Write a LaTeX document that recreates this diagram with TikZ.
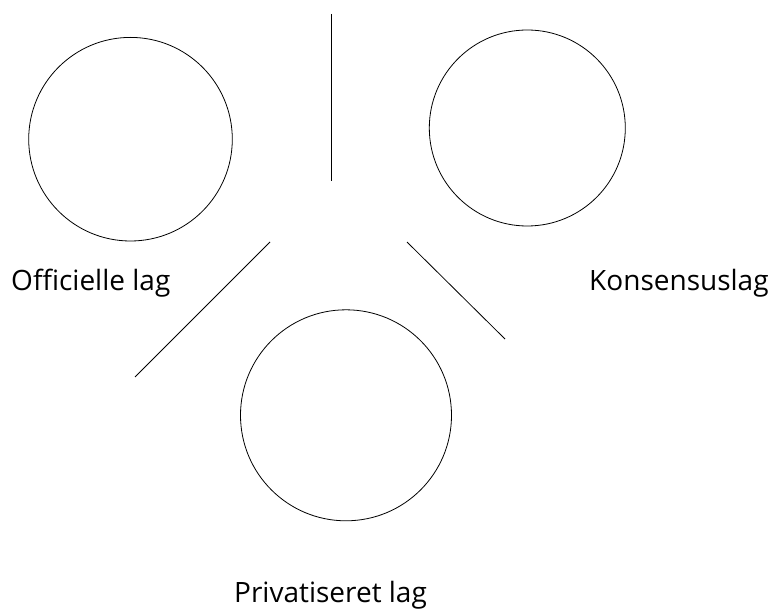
\documentclass[tikz,border=0pt]{standalone}
\usepackage{fontspec}
\setmainfont{Open Sans}
\begin{document}
\begin{tikzpicture}[x=1pt,y=-1pt,
  ring/.style={draw=black, line width=0.8pt, circle, inner sep=0pt, minimum size=#1},
  stroke/.style={draw=black, line width=0.8pt},
  lbl/.style={font=\fontsize{28}{32}\selectfont, inner sep=0pt, anchor=base west}]
\useasboundingbox (0,0) rectangle (774,612);
\node[ring=203.6pt] (c1) at (130.5,139.2) {};
\node[ring=196pt] (c2) at (527.3,128) {};
\node[ring=211pt] (c3) at (346,415.3) {};
\coordinate (v1) at (331,14);
\coordinate (v2) at (331,181);
\coordinate (l1) at (270,242);
\coordinate (l2) at (135,377);
\coordinate (r1) at (407,242);
\coordinate (r2) at (505,339);
\draw[stroke] (v1) -- (v2);
\draw[stroke] (l1) -- (l2);
\draw[stroke] (r1) -- (r2);
\node[lbl] (t1) at (11,291) {Officielle lag};
\node[lbl] (t2) at (589,291) {Konsensuslag};
\node[lbl] (t3) at (234,602) {Privatiseret lag};
\end{tikzpicture}
\end{document}
